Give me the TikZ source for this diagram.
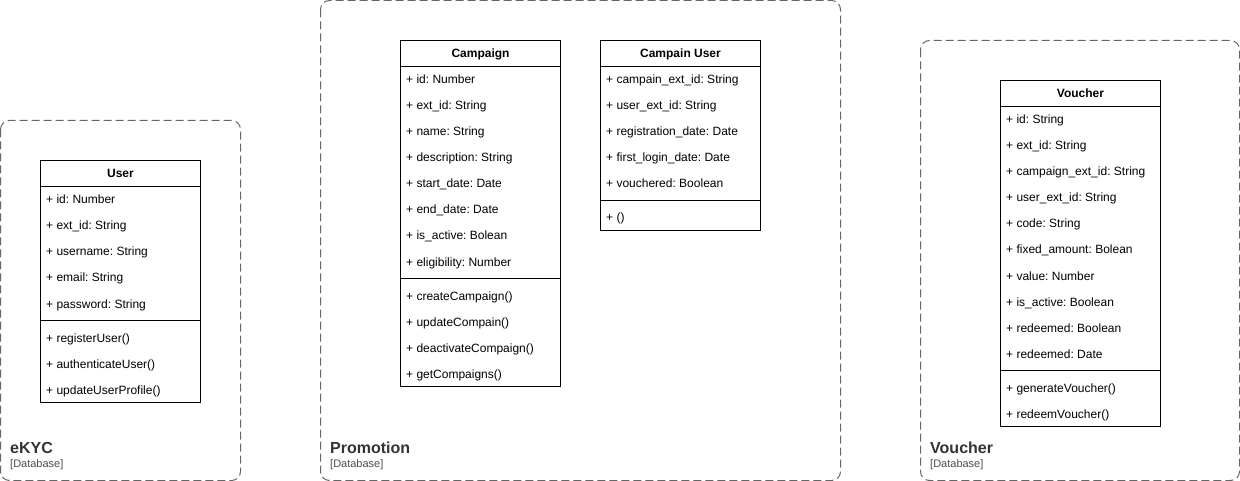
\documentclass[tikz,border=0pt]{standalone}
\usepackage{fontspec}
\setmainfont{Liberation Sans}
\frenchspacing
\definecolor{ctborder}{HTML}{666666}
\definecolor{cttitle}{HTML}{333333}
\definecolor{ctsub}{HTML}{4D4D4D}
\tikzset{
  container/.style={draw=ctborder, line width=1pt, dash pattern=on 8pt off 4pt, rounded corners=9pt, rectangle, inner sep=0pt},
  clsbox/.style={draw=black, line width=1pt, rectangle, inner sep=0pt, fill=white},
  sepline/.style={draw=black, line width=1pt},
  attr/.style={anchor=base west, inner sep=0pt, font=\frenchspacing\fontsize{12}{14}\selectfont},
  hdr/.style={anchor=base, inner sep=0pt, font=\frenchspacing\bfseries\fontsize{12}{14}\selectfont},
  cttl/.style={anchor=base west, inner sep=0pt, text=cttitle, font=\bfseries\fontsize{16}{19}\selectfont},
  csub/.style={anchor=base west, inner sep=0pt, text=ctsub, font=\fontsize{11}{13}\selectfont}
}
\begin{document}
\begin{tikzpicture}[x=1pt, y=-1pt]
\useasboundingbox (0,0) rectangle (1240,481);

% containers
\draw[container] (0.5,120.5) rectangle (240.5,480.5);
\coordinate (ekyc) at (0.5,120.5);
\node[cttl] (ekyc-t) at (10,453.5) {eKYC};
\node[csub] (ekyc-s) at (10,467) {[Database]};

\draw[container] (320.5,0.5) rectangle (840.5,480.5);
\coordinate (promo) at (320.5,0.5);
\node[cttl] (promo-t) at (330,453.5) {Promotion};
\node[csub] (promo-s) at (330,467) {[Database]};

\draw[container] (920.5,40.5) rectangle (1239.5,480.5);
\coordinate (vouch) at (920.5,40.5);
\node[cttl] (vouch-t) at (930,453.5) {Voucher};
\node[csub] (vouch-s) at (930,467) {[Database]};

% User class
\draw[clsbox] (40.5,160.5) rectangle (200.5,402.5);
\draw[sepline] (40.5,186.5) -- (200.5,186.5);
\draw[sepline] (40.5,320.5) -- (200.5,320.5);
\node[hdr] (user) at (120.5,178) {User};
\foreach \t [count=\i] in {+ id: Number, + ext\_id: String, + username: String, + email: String, + password: String}
  \node[attr] (user-a\i) at (46,{204+26*(\i-1)}) {\t};
\foreach \t [count=\i] in {+ registerUser(), + authenticateUser(), + updateUserProfile()}
  \node[attr] (user-m\i) at (46,{342+26*(\i-1)}) {\t};

% Campaign class
\draw[clsbox] (400.5,40.5) rectangle (560.5,386.5);
\draw[sepline] (400.5,66.5) -- (560.5,66.5);
\draw[sepline] (400.5,278.5) -- (560.5,278.5);
\node[hdr] (camp) at (480.5,58) {Campaign};
\foreach \t [count=\i] in {+ id: Number, + ext\_id: String, + name: String, + description: String, + start\_date: Date, + end\_date: Date, + is\_active: Bolean, + eligibility: Number}
  \node[attr] (camp-a\i) at (406,{84+26*(\i-1)}) {\t};
\foreach \t [count=\i] in {+ createCampaign(), + updateCompain(), + deactivateCompaign(), + getCompaigns()}
  \node[attr] (camp-m\i) at (406,{300+26*(\i-1)}) {\t};

% Campain User class
\draw[clsbox] (600.5,40.5) rectangle (760.5,230.5);
\draw[sepline] (600.5,66.5) -- (760.5,66.5);
\draw[sepline] (600.5,200.5) -- (760.5,200.5);
\node[hdr] (cu) at (680.5,58) {Campain User};
\foreach \t [count=\i] in {+ campain\_ext\_id: String, + user\_ext\_id: String, + registration\_date: Date, + first\_login\_date: Date, + vouchered: Boolean}
  \node[attr] (cu-a\i) at (606,{84+26*(\i-1)}) {\t};
\node[attr] (cu-m1) at (606,222) {+ ()};

% Voucher class
\draw[clsbox] (1000.5,80.5) rectangle (1160.5,426.5);
\draw[sepline] (1000.5,106.5) -- (1160.5,106.5);
\draw[sepline] (1000.5,370.5) -- (1160.5,370.5);
\node[hdr] (vc) at (1080.5,98) {Voucher};
\foreach \t [count=\i] in {+ id: String, + ext\_id: String, + campaign\_ext\_id: String, + user\_ext\_id: String, + code: String, + fixed\_amount: Bolean, + value: Number, + is\_active: Boolean, + redeemed: Boolean, + redeemed: Date}
  \node[attr] (vc-a\i) at (1006,{124+26*(\i-1)}) {\t};
\foreach \t [count=\i] in {+ generateVoucher(), + redeemVoucher()}
  \node[attr] (vc-m\i) at (1006,{392+26*(\i-1)}) {\t};
\end{tikzpicture}
\end{document}
